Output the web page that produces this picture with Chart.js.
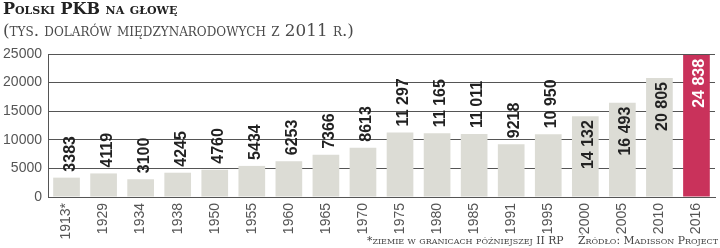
<!DOCTYPE html>
<html>
<head>
<meta charset="utf-8">
<script src="https://cdn.jsdelivr.net/npm/chart.js@4"></script>
<style>
  html, body { margin: 0; padding: 0; background: #fff; }
  #wrap { position: relative; width: 720px; height: 248px; overflow: hidden; }
  #chart { position: absolute; left: 0; top: 0; }
  .title { position: absolute; left: 3px; top: -1px; font: bold 16px "DejaVu Serif", serif; font-variant: small-caps; color: #222; white-space: nowrap; }
  .sub { position: absolute; left: 3px; top: 20px; font: 16.8px "DejaVu Serif", serif; font-variant: small-caps; color: #4a4a4a; white-space: nowrap; }
  .note { position: absolute; top: 234px; font: 10.8px "DejaVu Serif", serif; font-variant: small-caps; color: #444; white-space: nowrap; }
</style>
</head>
<body>
<div id="wrap">
  <canvas id="chart" width="720" height="248"></canvas>
  <div class="title">Polski PKB na głowę</div>
  <div class="sub">(tys. dolarów międzynarodowych z 2011 r.)</div>
  <div class="note" style="left:367px">*ziemie w granicach późniejszej II RP</div>
  <div class="note" style="left:578px">Źródło: Madisson Project</div>
</div>
<script>
const years = ["1913*", "1929", "1934", "1938", "1950", "1955", "1960", "1965", "1970",
  "1975", "1980", "1985", "1991", "1995", "2000", "2005", "2010", "2016"];
const gdpPerCapita = [3383, 4119, 3100, 4245, 4760, 5434, 6253, 7366, 8613,
  11297, 11165, 11011, 9218, 10950, 14132, 16493, 20805, 24838];
const yTicks = [0, 5000, 10000, 15000, 20000, 25000];

const barColors = years.map((y, i) => (i === years.length - 1 ? "#c9325b" : "#dcdcd5"));

function fmt(v) {
  const s = String(v);
  return s.length > 4 ? s.slice(0, s.length - 3) + " " + s.slice(-3) : s;
}

const valueLabels = {
  id: "valueLabels",
  afterDatasetsDraw(chart) {
    const ctx = chart.ctx;
    const meta = chart.getDatasetMeta(0);
    ctx.save();
    ctx.font = "bold 16px 'Liberation Sans', Arial, sans-serif";
    meta.data.forEach((bar, i) => {
      const v = gdpPerCapita[i];
      const inside = v > 13000;
      ctx.save();
      if (inside) {
        ctx.translate(bar.x + 8, bar.y + 4);
        ctx.rotate(-Math.PI / 2);
        ctx.textAlign = "right";
        ctx.fillStyle = i === meta.data.length - 1 ? "#fff" : "#222";
      } else {
        ctx.translate(bar.x + 8, bar.y - 6);
        ctx.rotate(-Math.PI / 2);
        ctx.textAlign = "left";
        ctx.fillStyle = "#222";
      }
      ctx.textBaseline = "alphabetic";
      ctx.fillText(fmt(v), 0, 0);
      ctx.restore();
    });
    ctx.restore();
  }
};

new Chart(document.getElementById("chart"), {
  type: "bar",
  data: {
    labels: years,
    datasets: [{
      data: gdpPerCapita,
      backgroundColor: barColors,
      barPercentage: 0.72,
      categoryPercentage: 1
    }]
  },
  options: {
    responsive: false,
    animation: false,
    events: [],
    layout: { padding: { top: 54, right: 5, left: 0, bottom: 0 } },
    plugins: { legend: { display: false }, tooltip: { enabled: false } },
    scales: {
      x: {
        afterFit: (s) => { s.height = 51; },
        grid: { display: false, drawTicks: false },
        border: { display: true, color: "#555", width: 1 },
        ticks: {
          maxRotation: 90, minRotation: 90, padding: 6,
          color: "#555",
          font: { family: "'Liberation Sans Narrow', sans-serif", size: 14 }
        }
      },
      y: {
        min: 0, max: 25000,
        afterFit: (s) => { s.width = 48; },
        afterBuildTicks: (s) => { s.ticks = yTicks.map((v) => ({ value: v })); },
        grid: { color: "#555", lineWidth: 1, drawTicks: false },
        border: { display: true, color: "#555", width: 1 },
        ticks: {
          padding: 6, color: "#555",
          callback: (v) => String(v),
          font: { family: "'Liberation Sans Narrow', sans-serif", size: 14 }
        }
      }
    }
  },
  plugins: [valueLabels]
});
</script>
</body>
</html>
